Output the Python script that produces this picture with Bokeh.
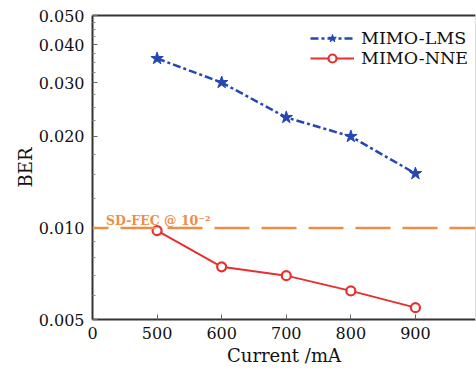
from bokeh.plotting import figure
from bokeh.models import (FixedTicker, Span, Legend, LegendItem, LinearAxis, Range1d, LogAxis)
from bokeh.core.properties import value
from bokeh.embed import file_html
from bokeh.resources import INLINE

# ---- data ----
current = [500, 600, 700, 800, 900]
ber_lms = [0.0361, 0.0301, 0.0231, 0.0200, 0.0151]
ber_nne = [0.0098, 0.00745, 0.00697, 0.00621, 0.00547]
fec_limit = 0.01
fec_text = "SD-FEC @ 10\u207b\u00b2"
x_ticks = [400, 500, 600, 700, 800, 900]
x_tick_labels = ["0", "500", "600", "700", "800", "900"]
y_ticks = [0.005, 0.010, 0.020, 0.030, 0.040, 0.050]
y_tick_labels = ["0.005", "0.010", "0.020", "0.030", "0.040", "0.050"]
y_minor = [0.006, 0.007, 0.008, 0.009, 0.0125, 0.015, 0.0175,
           0.0225, 0.025, 0.0275, 0.0325, 0.035, 0.0375, 0.0425, 0.045, 0.0475]

BLUE = "#2447b3"
RED = "#e5302f"
ORANGE = "#ee8d48"
SERIF = "DejaVu Serif"

p = figure(width=476, height=371, y_axis_type="log",
           x_range=Range1d(400, 993), y_range=Range1d(0.005, 0.05),
           output_backend="svg", toolbar_location=None,
           min_border_left=92, min_border_right=1, min_border_top=15, min_border_bottom=52)
p.outline_line_color = None
p.xgrid.visible = False
p.ygrid.visible = False
p.background_fill_color = "white"

# threshold line
p.add_layout(Span(location=fec_limit, dimension="width", line_color=ORANGE,
                  line_width=2.5, line_dash="35 12", line_dash_offset=19))
p.text(x=[421], y=[fec_limit], text=[fec_text], text_color=ORANGE,
       text_font=value(SERIF), text_font_style="bold", text_font_size="12.5px",
       text_baseline="alphabetic", y_offset=-7)

l1 = p.line(current, ber_lms, line_color=BLUE, line_width=2.5, line_dash="8 3 3 3")
s1 = p.scatter(current, ber_lms, marker="star", size=13, fill_color=BLUE, line_color=BLUE)
l2 = p.line(current, ber_nne, line_color=RED, line_width=2)
s2 = p.scatter(current, ber_nne, marker="circle", size=9, fill_color="white",
               line_color=RED, line_width=2.2)

# axes
xa = p.xaxis[0]
xa.ticker = FixedTicker(ticks=x_ticks)
xa.major_label_overrides = {t: l for t, l in zip(x_ticks, x_tick_labels)}
ya = p.yaxis[0]
ya.ticker = FixedTicker(ticks=y_ticks, minor_ticks=y_minor)
ya.major_label_overrides = {t: l for t, l in zip(y_ticks, y_tick_labels)}
for ax in (xa, ya):
    ax.axis_line_color = "#333333"
    ax.axis_line_width = 2
    ax.major_tick_in = 5
    ax.major_tick_out = 0
    ax.minor_tick_in = 3
    ax.minor_tick_out = 0
    ax.major_tick_line_color = "#666666"
    ax.minor_tick_line_color = "#888888"
    ax.major_label_text_font = SERIF
    ax.major_label_text_font_size = "16px"
    ax.major_label_text_color = "#111111"
    ax.axis_label_text_font = SERIF
    ax.axis_label_text_font_size = "18px"
    ax.axis_label_text_font_style = "normal"
    ax.axis_label_text_color = "#111111"
xa.minor_tick_line_color = None
xa.major_label_standoff = 7
xa.axis_label = "Current /mA"
xa.axis_label_standoff = 3
ya.major_label_standoff = 8
ya.axis_label = "BER"
ya.axis_label_standoff = 0

top = LinearAxis(ticker=FixedTicker(ticks=[]), major_label_text_font_size="0px",
                 axis_line_color="#333333", axis_line_width=2)
p.add_layout(top, "above")
right = LogAxis(ticker=FixedTicker(ticks=[]), major_label_text_font_size="0px",
                axis_line_color="#dddddd", axis_line_width=1)
p.add_layout(right, "right")

legend = Legend(items=[LegendItem(label="MIMO-LMS", renderers=[l1, s1]),
                       LegendItem(label="MIMO-NNE", renderers=[l2, s2])],
                location=(218, 251), border_line_color=None,
                background_fill_alpha=0, margin=0, padding=3, spacing=0,
                glyph_width=44, glyph_height=20, label_standoff=7,
                label_text_font=SERIF, label_text_font_size="17.5px",
                label_text_color="#111111", label_height=20)
p.add_layout(legend)

open("out.html", "w").write(file_html(p, INLINE))
